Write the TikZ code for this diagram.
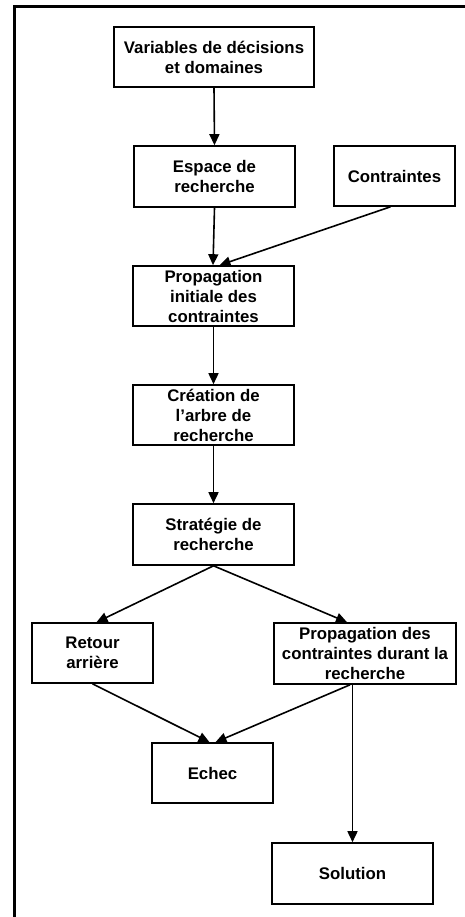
\documentclass[tikz,border=0pt]{standalone}
\usepackage{fontspec}
\setmainfont{Liberation Sans}
\usetikzlibrary{arrows.meta}
\begin{document}
\begin{tikzpicture}[x=1pt,y=-1pt,
  box/.style={draw, line width=1.6pt, rectangle, align=center, inner sep=0pt,
    font=\fontsize{16.8}{20}\selectfont\bfseries},
  link/.style={line width=1.6pt, -{Triangle[length=11pt,width=10pt]}},
  frameline/.style={line width=3pt}]
\useasboundingbox (0,0) rectangle (465,917);

% open frame: top and left edges only
\coordinate (ftopr) at (465,7);
\coordinate (fcorner) at (14,7);
\coordinate (fbot) at (14,917);
\draw[frameline] (ftopr) -- (fcorner) -- (fbot);

% process boxes
\node[box, minimum width=200, minimum height=60] (var) at (214,57) {Variables de décisions\\et domaines};
\node[box, minimum width=161, minimum height=61] (esp) at (214.5,176.5) {Espace de\\recherche};
\node[box, minimum width=121, minimum height=60] (con) at (394.5,176) {Contraintes};
\node[box, minimum width=161, minimum height=60] (pini) at (213.5,296) {Propagation\\initiale des\\contraintes};
\node[box, minimum width=161, minimum height=60] (arb) at (213.5,415) {Création de\\l’arbre de\\recherche};
\node[box, minimum width=161, minimum height=61] (strat) at (213.5,534.5) {Stratégie de\\recherche};
\node[box, minimum width=121, minimum height=60] (ret) at (92.5,653) {Retour\\arrière};
\node[box, minimum width=182, minimum height=61] (pdes) at (365,653.5) {Propagation des\\contraintes durant la\\recherche};
\node[box, minimum width=121, minimum height=60] (ech) at (212.5,773) {Echec};
\node[box, minimum width=161, minimum height=61] (sol) at (352.5,873.5) {Solution};

% connectors
\draw[link] (var.south) -- (esp.north);
\draw[link] (esp.south) -- ([xshift=-0.5pt]pini.north);
\draw[link] ([xshift=-4pt]con.south) -- ([xshift=6pt]pini.north);
\draw[link] (pini.south) -- (arb.north);
\draw[link] (arb.south) -- (strat.north);
\draw[link] (strat.south) -- ([xshift=4pt]ret.north);
\draw[link] (strat.south) -- ([xshift=-18pt]pdes.north);
\draw[link] (ret.south) -- ([xshift=-3pt]ech.north);
\draw[link] ([xshift=-15pt]pdes.south) -- ([xshift=3pt]ech.north);
\draw[link] (sol.north |- pdes.south) -- (sol.north);
\end{tikzpicture}
\end{document}
